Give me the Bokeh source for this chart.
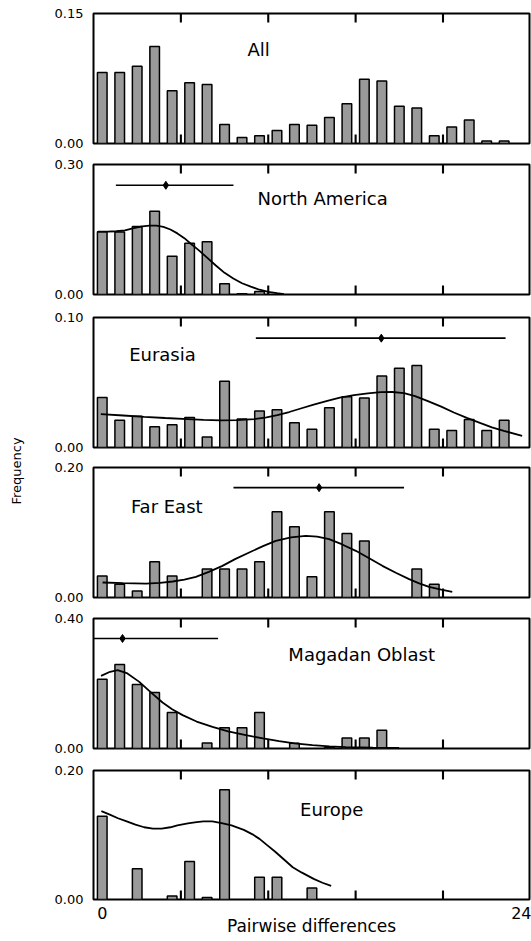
from bokeh.plotting import figure
from bokeh.models import Range1d, LinearAxis, FixedTicker, NumeralTickFormatter, Label
from bokeh.layouts import row, column
from bokeh.embed import file_html
from bokeh.resources import INLINE

FONT = "DejaVu Sans"

# ---------------- data (pairwise differences -> frequency) ----------------
all_x = list(range(24))
all_freq = [0.082, 0.082, 0.089, 0.112, 0.061, 0.070, 0.068, 0.022, 0.007, 0.009, 0.015, 0.022,
            0.021, 0.030, 0.046, 0.074, 0.072, 0.043, 0.041, 0.009, 0.019, 0.027, 0.003, 0.003]

na_x = list(range(10))
na_freq = [0.145, 0.144, 0.157, 0.192, 0.088, 0.118, 0.122, 0.025, 0.002, 0.007]
na_curve_x = [-0.25, 0.3, 0.8, 1.3, 1.8, 2.3, 2.7, 3.1, 3.5, 3.9, 4.3, 4.7, 5.1, 5.5, 6.0, 6.5, 7.0, 7.5,
              8.0, 8.5, 9.0, 9.5, 10.0, 10.4]
na_curve_y = [0.145, 0.145, 0.146, 0.148, 0.153, 0.157, 0.159, 0.159, 0.156, 0.150, 0.141, 0.130, 0.116,
              0.103, 0.085, 0.067, 0.050, 0.037, 0.026, 0.018, 0.011, 0.006, 0.003, 0.001]
na_mean, na_lo, na_hi, na_level = 3.64, 0.78, 7.51, 0.252

eu_x = list(range(24))
eu_freq = [0.0385, 0.021, 0.024, 0.016, 0.0175, 0.023, 0.008, 0.051, 0.022, 0.028, 0.029, 0.019,
           0.014, 0.0305, 0.039, 0.038, 0.055, 0.061, 0.063, 0.014, 0.013, 0.0215, 0.013, 0.021]
eu_curve_x = [-0.08, 1.2, 2.4, 3.6, 4.88, 5.8, 6.78, 7.7, 8.69, 9.4, 10.02, 10.7, 11.36, 12.1, 12.88, 13.6,
              14.41, 15.2, 15.93, 16.6, 17.27, 17.9, 18.6, 19.4, 20.12, 20.9, 21.65, 22.3, 22.98, 24.03]
eu_curve_y = [0.0256, 0.0246, 0.0236, 0.0227, 0.0218, 0.0212, 0.0208, 0.0210, 0.0218, 0.0231, 0.0249,
              0.0273, 0.0300, 0.0330, 0.0359, 0.0383, 0.0403, 0.0417, 0.0426, 0.0427, 0.0418, 0.0395,
              0.0359, 0.0314, 0.0269, 0.0226, 0.0187, 0.0155, 0.0128, 0.0090]
eu_mean, eu_lo, eu_hi, eu_level = 15.97, 8.79, 23.08, 0.0841

fe_x = [0, 1, 2, 3, 4, 6, 7, 8, 9, 10, 11, 12, 13, 14, 15, 18, 19]
fe_freq = [0.033, 0.0205, 0.010, 0.055, 0.033, 0.044, 0.044, 0.044, 0.055, 0.132, 0.109, 0.032,
           0.132, 0.0985, 0.087, 0.044, 0.0205]
fe_curve_x = [0.02, 1.2, 2.5, 3.3, 4.03, 4.7, 5.36, 6.1, 6.88, 7.6, 8.41, 9.2, 9.93, 10.8, 11.65, 12.3,
              12.98, 13.7, 14.51, 15.3, 16.03, 16.8, 17.56, 18.1, 18.7, 19.4, 20.03]
fe_curve_y = [0.0231, 0.0222, 0.0215, 0.0225, 0.0246, 0.0275, 0.0318, 0.0395, 0.0487, 0.0590, 0.0692,
              0.0790, 0.0872, 0.0925, 0.0949, 0.0938, 0.0897, 0.0820, 0.0718, 0.0600, 0.0487, 0.0380,
              0.0282, 0.0220, 0.0164, 0.0120, 0.0087]
fe_mean, fe_lo, fe_hi, fe_level = 12.41, 7.51, 17.27, 0.169

mo_x = [0, 1, 2, 3, 4, 6, 7, 8, 9, 11, 13, 14, 15, 16]
mo_freq = [0.213, 0.2585, 0.197, 0.172, 0.111, 0.017, 0.064, 0.064, 0.111, 0.016, 0.003, 0.032, 0.032, 0.056]
mo_curve_x = [-0.07, 0.45, 0.88, 1.4, 2.12, 2.8, 3.45, 4.0, 4.6, 5.4, 6.31, 7.2, 8.22, 9.2, 10.12, 11.0,
              12.03, 13.0, 13.94, 15.5, 16.99]
mo_curve_y = [0.2236, 0.236, 0.241, 0.232, 0.205, 0.172, 0.1415, 0.121, 0.1026, 0.083, 0.0667, 0.053,
              0.041, 0.031, 0.0226, 0.016, 0.0103, 0.0068, 0.0041, 0.0028, 0.002]
mo_mean, mo_lo, mo_hi, mo_level = 1.16, -0.5, 6.63, 0.3385

ep_x = [0, 2, 4, 5, 6, 7, 9, 10, 12]
ep_freq = [0.129, 0.0475, 0.0055, 0.059, 0.003, 0.170, 0.0345, 0.0345, 0.018]
ep_curve_x = [-0.05, 0.4, 0.9, 1.4, 1.9, 2.4, 2.9, 3.4, 3.9, 4.3, 4.9, 5.4, 5.8, 6.3, 6.9, 7.4, 8.1, 8.6,
              9.0, 9.4, 9.9, 10.4, 10.9, 11.4, 12.1, 12.6, 13.1]
ep_curve_y = [0.137, 0.132, 0.126, 0.121, 0.116, 0.112, 0.110, 0.110, 0.112, 0.115, 0.118, 0.120, 0.121,
              0.121, 0.118, 0.115, 0.108, 0.101, 0.094, 0.085, 0.074, 0.062, 0.050, 0.042, 0.032, 0.026, 0.021]

panel_names = ["All", "North America", "Eurasia", "Far East", "Magadan Oblast", "Europe"]
y_max = [0.15, 0.30, 0.10, 0.20, 0.40, 0.20]
x_tick_values = [0, 24]
x_tick_labels = ["0", "24"]
bin_edges = [4.5, 9.5, 14.5, 19.5]

# ---------------- layout constants ----------------
heights = [154, 151, 152, 150, 152, 182]
tops = [13, 10, 12, 10, 11, 11]
bottoms = [11, 11, 10, 10, 11, 42]
FRAME_H = 130
TICK_PX = 9
title_pos = [(8.31, 0.1083), (8.88, 0.2223), (1.54, 0.0712), (1.64, 0.1395), (10.65, 0.2886), (11.32, 0.1391)]

bars = [(all_x, all_freq), (na_x, na_freq), (eu_x, eu_freq), (fe_x, fe_freq), (mo_x, mo_freq), (ep_x, ep_freq)]
curves = [None, (na_curve_x, na_curve_y), (eu_curve_x, eu_curve_y), (fe_curve_x, fe_curve_y),
          (mo_curve_x, mo_curve_y), (ep_curve_x, ep_curve_y)]
means = [None, (na_mean, na_lo, na_hi, na_level), (eu_mean, eu_lo, eu_hi, eu_level),
         (fe_mean, fe_lo, fe_hi, fe_level), (mo_mean, mo_lo, mo_hi, mo_level), None]


def label_axis():
    ax = LinearAxis(ticker=FixedTicker(ticks=x_tick_values))
    ax.axis_line_color = None
    ax.major_tick_in = 0
    ax.major_tick_out = 0
    ax.major_label_overrides = dict(zip(x_tick_values, x_tick_labels))
    ax.major_label_text_font = FONT
    ax.major_label_text_font_size = "16px"
    ax.major_label_text_color = "black"
    ax.major_label_standoff = 7
    ax.axis_label = "Pairwise differences"
    ax.axis_label_text_font = FONT
    ax.axis_label_text_font_size = "17px"
    ax.axis_label_text_font_style = "normal"
    ax.axis_label_text_color = "black"
    ax.axis_label_standoff = -6
    return ax


figs = []
for i, name in enumerate(panel_names):
    ymax = y_max[i]
    p = figure(width=501, height=heights[i], x_range=Range1d(-0.5, 24.45), y_range=Range1d(0, ymax),
               output_backend="svg", toolbar_location=None, x_axis_location=None,
               min_border_left=63, min_border_right=2, min_border_top=tops[i], min_border_bottom=bottoms[i])
    p.grid.visible = False
    p.outline_line_color = "black"
    p.outline_line_width = 2
    p.background_fill_color = "white"
    p.border_fill_color = "white"

    ya = p.yaxis[0]
    ya.ticker = FixedTicker(ticks=[0, ymax])
    ya.formatter = NumeralTickFormatter(format="0.00")
    ya.major_tick_in = 0
    ya.major_tick_out = 0
    ya.axis_line_color = None
    ya.major_label_standoff = 10
    ya.major_label_text_font = FONT
    ya.major_label_text_font_size = "13px"
    ya.major_label_text_color = "black"

    if i == len(panel_names) - 1:
        p.add_layout(label_axis(), "below")

    bx, by = bars[i]
    p.vbar(x=bx, top=by, bottom=0, width=0.55, fill_color="#9a9a9a", line_color="black", line_width=1.5)

    # inward tick marks at the bin edges, bottom and top of each frame
    tick_len = ymax * TICK_PX / FRAME_H
    n = len(bin_edges)
    p.vbar(x=bin_edges, bottom=[0] * n, top=[tick_len] * n, width=0.12, fill_color="black", line_color=None)
    p.vbar(x=bin_edges, bottom=[ymax - tick_len] * n, top=[ymax] * n, width=0.12, fill_color="black",
           line_color=None)

    if curves[i] is not None:
        cx, cy = curves[i]
        p.line(cx, cy, line_color="black", line_width=1.8)

    if means[i] is not None:
        m, lo, hi, lev = means[i]
        p.segment(x0=[lo], y0=[lev], x1=[hi], y1=[lev], line_color="black", line_width=1.6)
        p.scatter([m], [lev], marker="diamond", size=8, fill_color="black", line_color="black")

    tx, ty = title_pos[i]
    p.add_layout(Label(x=tx, y=ty, text=name, text_align="left", text_baseline="alphabetic",
                       text_font=FONT, text_font_size="18px", text_color="black"))
    figs.append(p)

left = figure(width=30, height=sum(heights), x_range=Range1d(0, 1), y_range=Range1d(0, 1),
              output_backend="svg", toolbar_location=None, x_axis_location=None, y_axis_location=None,
              min_border=0, outline_line_color=None)
left.grid.visible = False
left.add_layout(Label(x=0.52, y=0.5, text="Frequency", angle=90, angle_units="deg", text_align="center",
                      text_baseline="middle", text_font=FONT, text_font_size="13px", text_color="black"))

layout = row(left, column(*figs, spacing=0), spacing=0)
open("out.html", "w").write(file_html(layout, INLINE))
